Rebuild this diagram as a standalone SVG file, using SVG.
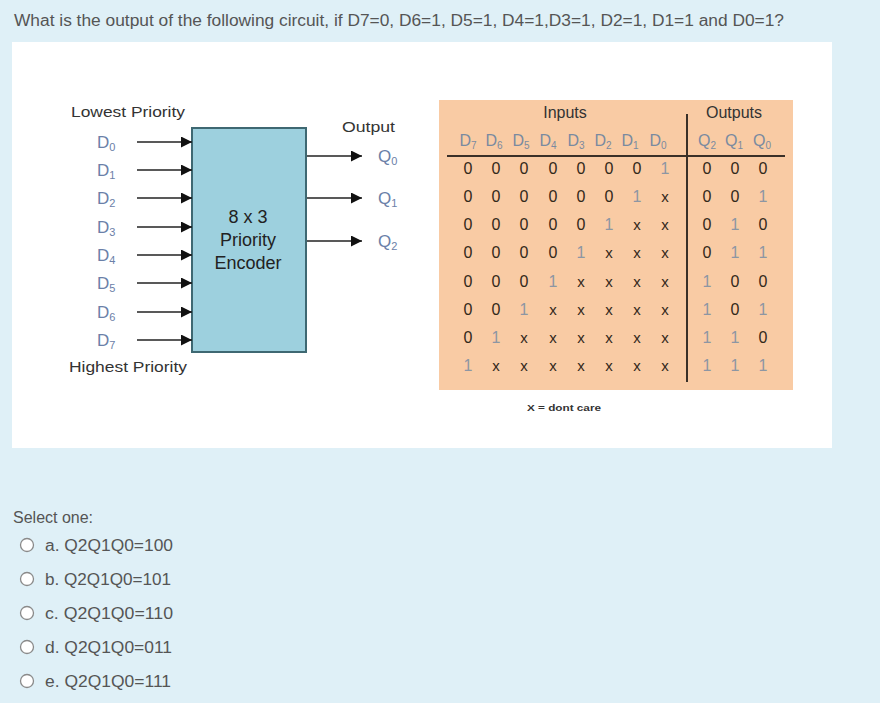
<svg xmlns="http://www.w3.org/2000/svg" width="880" height="703" viewBox="0 0 880 703">
<defs>
<marker id="ah" viewBox="0 0 10 10" refX="10" refY="5" markerWidth="17" markerHeight="11" markerUnits="userSpaceOnUse" orient="auto">
<path d="M0,0 L10,5 L0,10 z" fill="#111"/>
</marker>
<style>
.q{font-family:"Liberation Sans",Arial,sans-serif;fill:#555;}
.lbl{font-family:"Liberation Sans",Arial,sans-serif;font-size:15px;fill:#333;}
.sig{font-family:"Liberation Sans",Arial,sans-serif;font-size:17px;fill:#6b80a8;}
.hd{font-family:"Liberation Sans",Arial,sans-serif;font-size:16px;fill:#7a8aa0;text-anchor:middle;}
.d{font-family:"Liberation Sans",Arial,sans-serif;font-size:16px;text-anchor:middle;}
.z{fill:#33281a;}
.o{fill:#8d96a3;}
.x{fill:#33281a;font-size:15px;}
.wire{stroke:#222;stroke-width:1.6;fill:none;marker-end:url(#ah);}
.rad{fill:#fff;stroke:#8a8a8a;stroke-width:1.3;}
</style>
</defs>
<rect x="0" y="0" width="880" height="703" fill="#dff0f7"/>
<text class="q" x="14" y="26" font-size="16" textLength="770" lengthAdjust="spacingAndGlyphs">What is the output of the following circuit, if D7=0, D6=1, D5=1, D4=1,D3=1, D2=1, D1=1 and D0=1?</text>
<rect x="12" y="42" width="820" height="406" fill="#ffffff"/>

<g id="encoder">
<rect x="192" y="128" width="114" height="224" fill="#9dd0de" stroke="#3e6872" stroke-width="2"/>
<text x="248" y="223" text-anchor="middle" font-family="Liberation Sans, Arial, sans-serif" font-size="18" fill="#222">8 x 3</text>
<text x="248" y="246" text-anchor="middle" font-family="Liberation Sans, Arial, sans-serif" font-size="18" fill="#222">Priority</text>
<text x="248" y="269" text-anchor="middle" font-family="Liberation Sans, Arial, sans-serif" font-size="18" fill="#222">Encoder</text>
</g>

<g id="inputs">
<text class="lbl" x="71" y="117" textLength="114" lengthAdjust="spacingAndGlyphs">Lowest Priority</text>
<text class="sig" x="97" y="148">D<tspan font-size="11" dy="3">0</tspan></text>
<text class="sig" x="97" y="176">D<tspan font-size="11" dy="3">1</tspan></text>
<text class="sig" x="97" y="204">D<tspan font-size="11" dy="3">2</tspan></text>
<text class="sig" x="97" y="233">D<tspan font-size="11" dy="3">3</tspan></text>
<text class="sig" x="97" y="261">D<tspan font-size="11" dy="3">4</tspan></text>
<text class="sig" x="97" y="289">D<tspan font-size="11" dy="3">5</tspan></text>
<text class="sig" x="97" y="318">D<tspan font-size="11" dy="3">6</tspan></text>
<text class="sig" x="97" y="346">D<tspan font-size="11" dy="3">7</tspan></text>
<text class="lbl" x="69" y="372" textLength="118" lengthAdjust="spacingAndGlyphs">Highest Priority</text>
</g>

<g id="outputs">
<text class="lbl" x="342" y="132" textLength="53" lengthAdjust="spacingAndGlyphs">Output</text>
<text class="sig" x="378" y="162">Q<tspan font-size="11" dy="3">0</tspan></text>
<text class="sig" x="378" y="204">Q<tspan font-size="11" dy="3">1</tspan></text>
<text class="sig" x="378" y="247">Q<tspan font-size="11" dy="3">2</tspan></text>
</g>

<g id="connectors">
<line class="wire" x1="137" y1="142" x2="192" y2="142"/>
<line class="wire" x1="137" y1="170" x2="192" y2="170"/>
<line class="wire" x1="137" y1="198" x2="192" y2="198"/>
<line class="wire" x1="137" y1="227" x2="192" y2="227"/>
<line class="wire" x1="137" y1="255" x2="192" y2="255"/>
<line class="wire" x1="137" y1="283" x2="192" y2="283"/>
<line class="wire" x1="137" y1="312" x2="192" y2="312"/>
<line class="wire" x1="137" y1="340" x2="192" y2="340"/>
<line class="wire" x1="307" y1="156" x2="362" y2="156"/>
<line class="wire" x1="307" y1="198" x2="362" y2="198"/>
<line class="wire" x1="307" y1="241" x2="362" y2="241"/>
</g>

<g id="truth-table">
<rect x="439" y="100" width="354" height="290" fill="#f9cba4"/>
<text x="565" y="118" text-anchor="middle" font-family="Liberation Sans, Arial, sans-serif" font-size="16" fill="#333">Inputs</text>
<text x="734" y="118" text-anchor="middle" font-family="Liberation Sans, Arial, sans-serif" font-size="16" fill="#333">Outputs</text>
<line x1="687" y1="114" x2="687" y2="382" stroke="#3a3028" stroke-width="2"/>
<line x1="447" y1="156" x2="785" y2="156" stroke="#3a3028" stroke-width="2"/>
<g>
<text class="hd" x="468" y="146">D<tspan font-size="10" dy="3">7</tspan></text>
<text class="hd" x="494" y="146">D<tspan font-size="10" dy="3">6</tspan></text>
<text class="hd" x="521" y="146">D<tspan font-size="10" dy="3">5</tspan></text>
<text class="hd" x="548" y="146">D<tspan font-size="10" dy="3">4</tspan></text>
<text class="hd" x="576" y="146">D<tspan font-size="10" dy="3">3</tspan></text>
<text class="hd" x="603" y="146">D<tspan font-size="10" dy="3">2</tspan></text>
<text class="hd" x="630" y="146">D<tspan font-size="10" dy="3">1</tspan></text>
<text class="hd" x="658" y="146">D<tspan font-size="10" dy="3">0</tspan></text>
<text class="hd" x="707" y="146">Q<tspan font-size="10" dy="3">2</tspan></text>
<text class="hd" x="734" y="146">Q<tspan font-size="10" dy="3">1</tspan></text>
<text class="hd" x="762" y="146">Q<tspan font-size="10" dy="3">0</tspan></text>
</g>
<g class="d">
<text class="z" x="468" y="174">0</text><text class="z" x="496" y="174">0</text><text class="z" x="524" y="174">0</text><text class="z" x="553" y="174">0</text><text class="z" x="581" y="174">0</text><text class="z" x="609" y="174">0</text><text class="z" x="637" y="174">0</text><text class="o" x="665" y="174">1</text>
<text class="z" x="707" y="174">0</text><text class="z" x="735" y="174">0</text><text class="z" x="763" y="174">0</text>
<text class="z" x="468" y="202">0</text><text class="z" x="496" y="202">0</text><text class="z" x="524" y="202">0</text><text class="z" x="553" y="202">0</text><text class="z" x="581" y="202">0</text><text class="z" x="609" y="202">0</text><text class="o" x="637" y="202">1</text><text class="x" x="665" y="202">x</text>
<text class="z" x="707" y="202">0</text><text class="z" x="735" y="202">0</text><text class="o" x="763" y="202">1</text>
<text class="z" x="468" y="230">0</text><text class="z" x="496" y="230">0</text><text class="z" x="524" y="230">0</text><text class="z" x="553" y="230">0</text><text class="z" x="581" y="230">0</text><text class="o" x="609" y="230">1</text><text class="x" x="637" y="230">x</text><text class="x" x="665" y="230">x</text>
<text class="z" x="707" y="230">0</text><text class="o" x="735" y="230">1</text><text class="z" x="763" y="230">0</text>
<text class="z" x="468" y="258">0</text><text class="z" x="496" y="258">0</text><text class="z" x="524" y="258">0</text><text class="z" x="553" y="258">0</text><text class="o" x="581" y="258">1</text><text class="x" x="609" y="258">x</text><text class="x" x="637" y="258">x</text><text class="x" x="665" y="258">x</text>
<text class="z" x="707" y="258">0</text><text class="o" x="735" y="258">1</text><text class="o" x="763" y="258">1</text>
<text class="z" x="468" y="287">0</text><text class="z" x="496" y="287">0</text><text class="z" x="524" y="287">0</text><text class="o" x="553" y="287">1</text><text class="x" x="581" y="287">x</text><text class="x" x="609" y="287">x</text><text class="x" x="637" y="287">x</text><text class="x" x="665" y="287">x</text>
<text class="o" x="707" y="287">1</text><text class="z" x="735" y="287">0</text><text class="z" x="763" y="287">0</text>
<text class="z" x="468" y="315">0</text><text class="z" x="496" y="315">0</text><text class="o" x="524" y="315">1</text><text class="x" x="553" y="315">x</text><text class="x" x="581" y="315">x</text><text class="x" x="609" y="315">x</text><text class="x" x="637" y="315">x</text><text class="x" x="665" y="315">x</text>
<text class="o" x="707" y="315">1</text><text class="z" x="735" y="315">0</text><text class="o" x="763" y="315">1</text>
<text class="z" x="468" y="343">0</text><text class="o" x="496" y="343">1</text><text class="x" x="524" y="343">x</text><text class="x" x="553" y="343">x</text><text class="x" x="581" y="343">x</text><text class="x" x="609" y="343">x</text><text class="x" x="637" y="343">x</text><text class="x" x="665" y="343">x</text>
<text class="o" x="707" y="343">1</text><text class="o" x="735" y="343">1</text><text class="z" x="763" y="343">0</text>
<text class="o" x="468" y="371">1</text><text class="x" x="496" y="371">x</text><text class="x" x="524" y="371">x</text><text class="x" x="553" y="371">x</text><text class="x" x="581" y="371">x</text><text class="x" x="609" y="371">x</text><text class="x" x="637" y="371">x</text><text class="x" x="665" y="371">x</text>
<text class="o" x="707" y="371">1</text><text class="o" x="735" y="371">1</text><text class="o" x="763" y="371">1</text>
</g>
<text x="527" y="411" font-family="Liberation Sans, Arial, sans-serif" font-size="9" font-weight="bold" fill="#333" textLength="74" lengthAdjust="spacingAndGlyphs">X = dont care</text>
</g>

<text class="q" x="13" y="523" font-size="16">Select one:</text>
<g id="options">
<circle class="rad" cx="27" cy="545" r="6.5"/>
<text class="q" x="45" y="551" font-size="16" textLength="128" lengthAdjust="spacingAndGlyphs">a. Q2Q1Q0=100</text>
<circle class="rad" cx="27" cy="579" r="6.5"/>
<text class="q" x="45" y="585" font-size="16" textLength="126" lengthAdjust="spacingAndGlyphs">b. Q2Q1Q0=101</text>
<circle class="rad" cx="27" cy="613" r="6.5"/>
<text class="q" x="45" y="619" font-size="16" textLength="128" lengthAdjust="spacingAndGlyphs">c. Q2Q1Q0=110</text>
<circle class="rad" cx="27" cy="647" r="6.5"/>
<text class="q" x="45" y="653" font-size="16" textLength="127" lengthAdjust="spacingAndGlyphs">d. Q2Q1Q0=011</text>
<circle class="rad" cx="27" cy="681" r="6.5"/>
<text class="q" x="45" y="687" font-size="16" textLength="126" lengthAdjust="spacingAndGlyphs">e. Q2Q1Q0=111</text>
</g>
</svg>
